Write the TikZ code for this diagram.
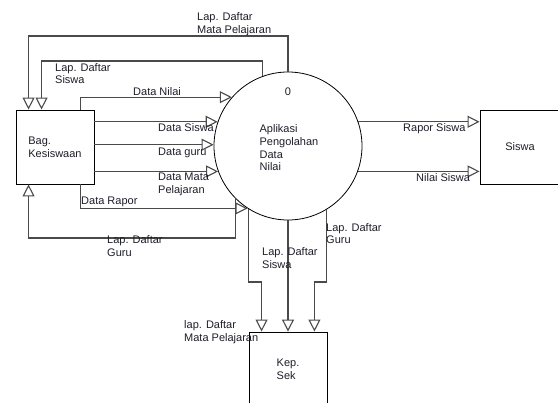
\documentclass[tikz,border=0pt]{standalone}
\usepackage{fontspec}
\setmainfont{Liberation Sans}
\usetikzlibrary{arrows.meta,calc}
\definecolor{linec}{HTML}{4A4A4A}
\definecolor{txtc}{HTML}{1E1E2A}
\newcommand\dfdfont{\fontsize{11}{12.7}\selectfont}
\begin{document}
\begin{tikzpicture}[x=1pt,y=-1pt,
  flow/.style={draw=linec, line width=1.1pt, -{Triangle[open,length=12pt,width=12pt]}},
  entity/.style={draw=black, line width=0.9pt, minimum width=78pt, minimum height=74pt, inner sep=0pt, align=left, font=\dfdfont, text=txtc},
  lbl/.style={text=txtc, font=\dfdfont, align=left, inner sep=0pt, anchor=west}]
\fill[white] (0,0) rectangle (558,403);
\useasboundingbox (0,0) rectangle (558,403);
% process
\node[circle, draw=black, line width=0.8pt, minimum size=148pt, inner sep=0pt] (p) at (288,146) {};
\node[lbl, anchor=center] (pnum) at (288,92) {0};
\node[lbl, anchor=center] (ptext) at (289,148) {Aplikasi\\Pengolahan\\Data\\Nilai};
% entities
\node[entity] (b) at (55,147) {Bag.\\Kesiswaan};
\node[entity, minimum width=80pt] (s) at (520,147) {Siswa};
\node[entity] (k) at (288,369) {Kep.\\Sek};
% anchor points on boxes
\coordinate (bt1) at ($(b.north west)+(13,0)$);
\coordinate (bt2) at ($(b.north west)+(26,0)$);
\coordinate (bt3) at ($(b.north west)+(65,0)$);
\coordinate (bb1) at ($(b.south west)+(13,0)$);
\coordinate (bb2) at ($(b.south west)+(65,0)$);
\coordinate (kt1) at ($(k.north west)+(13,0)$);
\coordinate (kt3) at ($(k.north east)+(-13,0)$);
% flows
\draw[flow] (p.north) -- (p.north |- 0,36) -| (bt1);
\draw[flow] (p.110) -- (p.110 |- 0,61) -| (bt2);
\draw[flow] (bt3) |- (p.139);
\draw[flow] (b.east |- p.161) -- (p.161);
\draw[flow] (b.east |- p.179) -- (p.179);
\draw[flow] (b.east |- p.200) -- (p.200);
\draw[flow] (bb2) |- (p.237);
\draw[flow] (p.225) -- (p.225 |- 0,238) -| (bb1);
\draw[flow] (p.238) -- (p.238 |- 0,282) -| (kt1);
\draw[flow] (p.south) -- (k.north);
\draw[flow] (p.301) -- (p.301 |- 0,282) -| (kt3);
\draw[flow] (p.19) -- (p.19 -| s.west);
\draw[flow] (p.340) -- (p.340 -| s.west);
% labels
\node[lbl] (l1) at (197,24) {Lap. Daftar\\Mata Pelajaran};
\node[lbl] (l2) at (55,73.5) {Lap. Daftar\\Siswa};
\node[lbl] (l3) at (133,92) {Data Nilai};
\node[lbl] (l4) at (158,128) {Data Siswa};
\node[lbl] (l5) at (158,153) {Data guru};
\node[lbl] (l6) at (158,184.5) {Data Mata\\Pelajaran};
\node[lbl] (l7) at (81,202) {Data Rapor};
\node[lbl] (l8) at (107,246) {Lap. Daftar\\Guru};
\node[lbl] (l9) at (326,233.5) {Lap. Daftar\\Guru};
\node[lbl] (l10) at (262,258) {Lap. Daftar\\Siswa};
\node[lbl] (l11) at (184,332) {lap. Daftar\\Mata Pelajaran};
\node[lbl] (l12) at (403,129) {Rapor Siswa};
\node[lbl] (l13) at (416,178) {Nilai Siswa};
\end{tikzpicture}
\end{document}
